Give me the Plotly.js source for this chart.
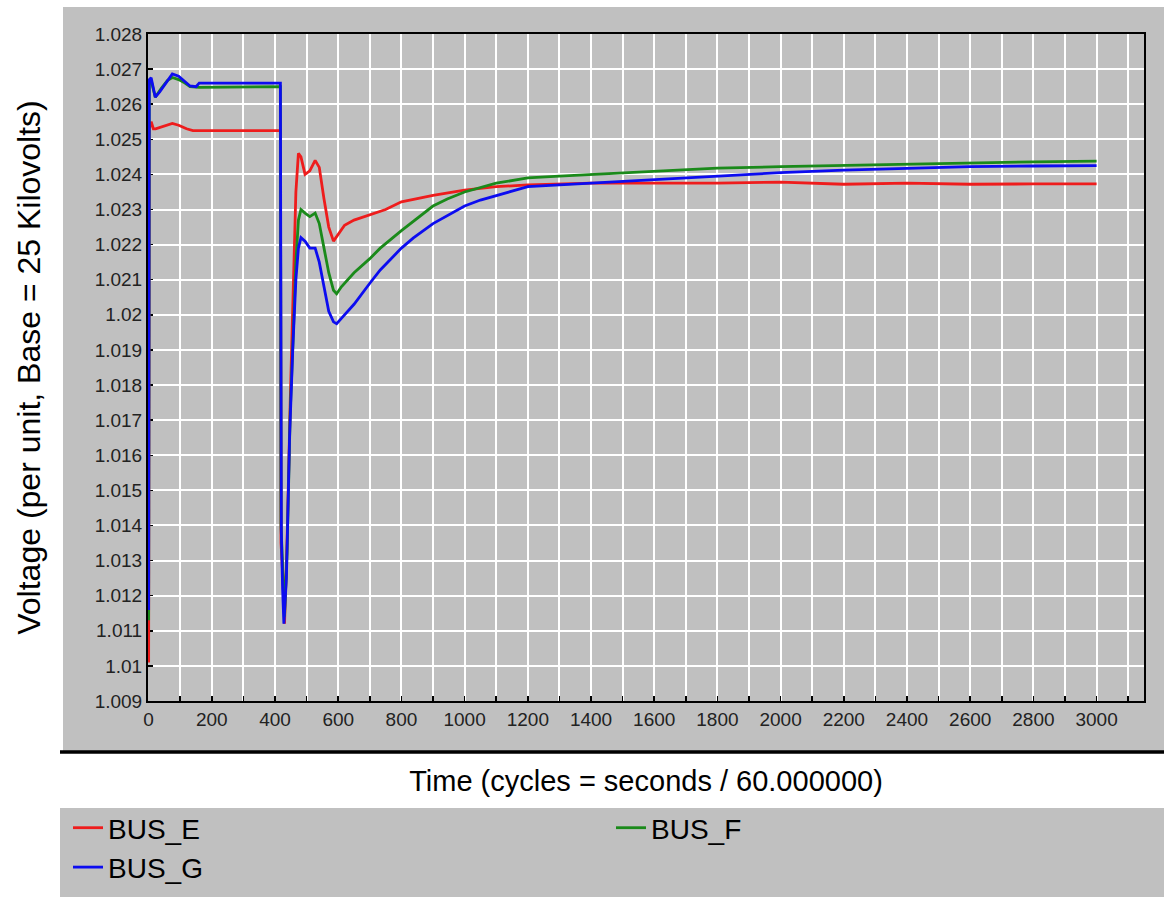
<!DOCTYPE html>
<html>
<head>
<meta charset="utf-8">
<script src="https://cdn.plot.ly/plotly-3.0.1.min.js"></script>
<style>html,body{margin:0;padding:0;background:#fff;}#chart{width:1164px;height:897px;}</style>
</head>
<body>
<div id="chart"></div>
<script>
// ---- data ----
const seriesNames = ["BUS_E", "BUS_F", "BUS_G"];

const timeE = [0, 2, 8, 15, 22, 40, 60, 75, 95, 120, 140, 417, 419, 425, 430, 438, 448, 458, 466, 474, 482, 495, 510, 527, 540, 555, 570, 585, 600, 620, 650, 700, 750, 800, 900, 1000, 1100, 1200, 1400, 1600, 1800, 2000, 2200, 2400, 2600, 2800, 3000];
const voltE = [1.0101, 1.0253, 1.0255, 1.0253, 1.0253, 1.02535, 1.0254, 1.02545, 1.0254, 1.0253, 1.02525, 1.02525, 1.0135, 1.0125, 1.0112, 1.0135, 1.0175, 1.0205, 1.0235, 1.0246, 1.0245, 1.0240, 1.0241, 1.0244, 1.0242, 1.0233, 1.0225, 1.0221, 1.0223, 1.02255, 1.0227, 1.02285, 1.0230, 1.02322, 1.0234, 1.02355, 1.02365, 1.0237, 1.02375, 1.02375, 1.02375, 1.02378, 1.02372, 1.02375, 1.02372, 1.02373, 1.02373];

const timeF = [0, 2, 10, 21, 40, 60, 75, 95, 115, 131, 160, 417, 419, 425, 430, 438, 448, 458, 466, 474, 482, 495, 510, 527, 540, 555, 570, 585, 595, 610, 650, 700, 733, 800, 900, 945, 1000, 1100, 1200, 1300, 1400, 1600, 1800, 2000, 2200, 2400, 2600, 2800, 3000];
const voltF = [1.0113, 1.0266, 1.0266, 1.0262, 1.02645, 1.02668, 1.02676, 1.0267, 1.0266, 1.0265, 1.02648, 1.0265, 1.0140, 1.0125, 1.0114, 1.0132, 1.0172, 1.0195, 1.0215, 1.0227, 1.0230, 1.0229, 1.0228, 1.0229, 1.0226, 1.0219, 1.0212, 1.0207, 1.0206, 1.0208, 1.0212, 1.0216, 1.0219, 1.0224, 1.0231, 1.0233, 1.0235, 1.02375, 1.0239, 1.02395, 1.0240, 1.0241, 1.02418, 1.02422, 1.02426, 1.0243, 1.02434, 1.02436, 1.02438];

const timeG = [0, 2, 8, 14, 21, 35, 55, 75, 95, 115, 131, 150, 160, 417, 420, 424, 428, 436, 446, 456, 466, 474, 482, 495, 510, 527, 540, 555, 570, 585, 595, 610, 650, 700, 733, 800, 838, 900, 1000, 1050, 1100, 1200, 1300, 1400, 1600, 1800, 2000, 2200, 2400, 2600, 2800, 3000];
const voltG = [1.01159, 1.0267, 1.02675, 1.0265, 1.0262, 1.02635, 1.0266, 1.02686, 1.0268, 1.02665, 1.02652, 1.0265, 1.0266, 1.0266, 1.0138, 1.0122, 1.0112, 1.0125, 1.0165, 1.0190, 1.0210, 1.0219, 1.0222, 1.0221, 1.0219, 1.0219, 1.0215, 1.0208, 1.0201, 1.0198, 1.01975, 1.0199, 1.0203, 1.0209, 1.02128, 1.0219, 1.02219, 1.0226, 1.0231, 1.02327, 1.0234, 1.02365, 1.0237, 1.02375, 1.02385, 1.02395, 1.02405, 1.02412, 1.02418, 1.02422, 1.02424, 1.02425];

const yTickVals = [1.009, 1.01, 1.011, 1.012, 1.013, 1.014, 1.015, 1.016, 1.017, 1.018, 1.019, 1.02, 1.021, 1.022, 1.023, 1.024, 1.025, 1.026, 1.027, 1.028];
const yTickText = ["1.009", "1.01", "1.011", "1.012", "1.013", "1.014", "1.015", "1.016", "1.017", "1.018", "1.019", "1.02", "1.021", "1.022", "1.023", "1.024", "1.025", "1.026", "1.027", "1.028"];

const xTitle = "Time (cycles = seconds / 60.000000)";
const yTitle = "Voltage (per unit, Base = 25 Kilovolts)";

// ---- layout geometry (pixels) ----
const W = 1164, H = 897;
const M = {l: 148, r: 20, t: 34, b: 196, autoexpand: false};
const PW = W - M.l - M.r, PH = H - M.t - M.b;
const px = x => (x - M.l) / PW;
const py = y => (H - M.b - y) / PH;

const colors = ["#ee1c1c", "#1a8a1a", "#0c0cf0"];
const FONT = "Liberation Sans, Arial, sans-serif";

const traces = [
  {x: timeE, y: voltE, name: seriesNames[0]},
  {x: timeF, y: voltF, name: seriesNames[1]},
  {x: timeG, y: voltG, name: seriesNames[2]}
].map((t, i) => Object.assign(t, {
  type: "scatter", mode: "lines",
  line: {color: colors[i], width: 2.8},
  hoverinfo: "skip"
}));

const layout = {
  width: W, height: H,
  margin: M,
  paper_bgcolor: "#ffffff",
  plot_bgcolor: "#c0c0c0",
  font: {family: FONT, color: "#1a1a1a"},
  showlegend: true,
  legend: {
    orientation: "h",
    x: px(68), xanchor: "left",
    y: py(803), yanchor: "top",
    entrywidth: 498, entrywidthmode: "pixels",
    bgcolor: "rgba(0,0,0,0)",
    font: {size: 28, color: "#000", family: FONT},
    traceorder: "normal"
  },
  xaxis: {
    range: [-2, 3150],
    tick0: 0, dtick: 200,
    ticks: "inside", ticklen: 5, tickwidth: 1.5, tickcolor: "#000",
    minor: {dtick: 100, ticks: "inside", ticklen: 5, tickwidth: 1.5, tickcolor: "#000", showgrid: true, gridcolor: "#ffffff", gridwidth: 2},
    showgrid: true, gridcolor: "#ffffff", gridwidth: 2,
    zeroline: false,
    showline: true, linecolor: "#000", linewidth: 2, mirror: true,
    tickfont: {size: 19, color: "#222"},
    title: {text: xTitle, font: {size: 29, color: "#000"}, standoff: 42},
    layer: "below traces",
    fixedrange: true
  },
  yaxis: {
    range: [1.009, 1.028],
    tickvals: yTickVals, ticktext: yTickText,
    ticks: "inside", ticklen: 5, tickwidth: 1.5, tickcolor: "#000",
    showgrid: true, gridcolor: "#ffffff", gridwidth: 2,
    zeroline: false,
    showline: true, linecolor: "#000", linewidth: 2, mirror: true,
    tickfont: {size: 19, color: "#222"},
    title: {text: yTitle, font: {size: 32, color: "#000"}, standoff: 44},
    layer: "below traces",
    fixedrange: true
  },
  shapes: [
    // grey chart panel
    {type: "rect", xref: "paper", yref: "paper", x0: px(63), x1: px(W), y0: py(7), y1: py(752), fillcolor: "#c0c0c0", line: {width: 0}, layer: "below"},
    // thick black rule under the panel
    {type: "line", xref: "paper", yref: "paper", x0: px(60), x1: px(W), y0: py(752), y1: py(752), line: {color: "#000", width: 3.5}, layer: "below"},
    // grey legend band
    {type: "rect", xref: "paper", yref: "paper", x0: px(60), x1: px(W), y0: py(808), y1: py(H), fillcolor: "#c0c0c0", line: {width: 0}, layer: "below"}
  ]
};

Plotly.newPlot("chart", traces, layout, {displayModeBar: false, staticPlot: true});
</script>
</body>
</html>
